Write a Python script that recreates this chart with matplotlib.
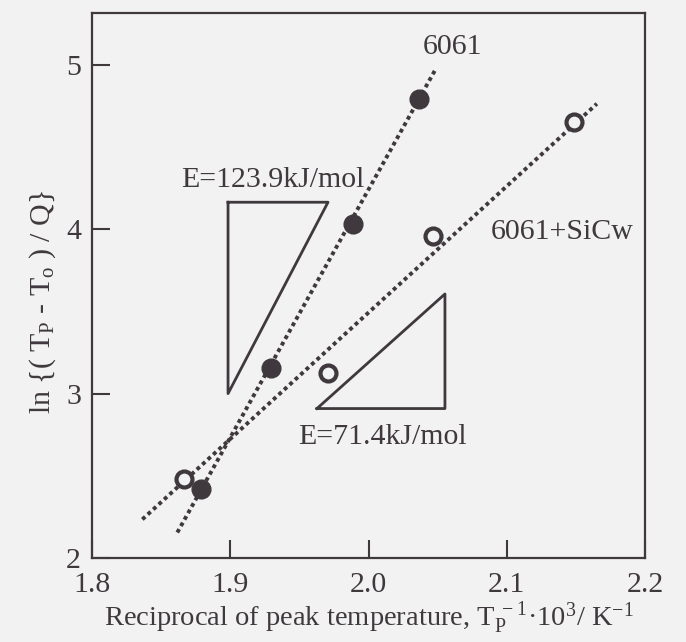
import matplotlib.pyplot as plt

plt.rcParams["font.family"] = "Liberation Serif"
plt.rcParams["mathtext.fontset"] = "custom"
plt.rcParams["mathtext.rm"] = "Liberation Serif"
plt.rcParams["mathtext.default"] = "rm"

ink = "#3f393e"
paper = "#f2f2f2"

# 6061 (filled) and 6061+SiCw (open) Kissinger-type points
x_6061 = [1.879, 1.9296, 1.989, 2.0365]
y_6061 = [2.417, 3.158, 4.034, 4.790]
x_sicw = [1.8664, 1.9710, 2.0466, 2.1488]
y_sicw = [2.479, 3.128, 3.957, 4.650]

# fitted lines (end points)
fit_6061_x = [1.8617, 2.0482]
fit_6061_y = [2.155, 4.968]
fit_sicw_x = [1.8364, 2.1652]
fit_sicw_y = [2.235, 4.763]

# slope triangles
tri1_x = [1.8984, 1.9707, 1.8984, 1.8984]
tri1_y = [4.164, 4.164, 3.000, 4.164]
tri2_x = [1.9627, 2.0553, 2.0553, 1.9627]
tri2_y = [2.909, 2.909, 3.606, 2.909]

xticks = [1.8, 1.9, 2.0, 2.1, 2.2]
xtick_labels = ["1.8", "1.9", "2.0", "2.1", "2.2"]
yticks = [2, 3, 4, 5]

fig = plt.figure(figsize=(6.86, 6.42), dpi=100, facecolor=paper)
ax = fig.add_axes([92 / 686, 1 - 558 / 642, 553 / 686, 545 / 642])
ax.set_facecolor(paper)

dots = dict(color=ink, lw=2.8, linestyle=(0, (1, 0.9)), dash_capstyle="butt")
ax.plot(fit_6061_x, fit_6061_y, **dots)
ax.plot(fit_sicw_x, fit_sicw_y, **dots)

ax.plot(tri1_x, tri1_y, color=ink, lw=2.0)
ax.plot(tri2_x, tri2_y, color=ink, lw=2.0)

ax.plot(x_6061, y_6061, "o", ms=13.5, mfc=ink, mec=ink, zorder=5)
ax.plot(x_sicw, y_sicw, "o", ms=11.5, mfc=paper, mec=ink, mew=3, zorder=5)

tsize = 21.5
ax.text(2.061, 5.11, "6061", fontsize=tsize, color=ink, ha="center", va="center")
ax.text(2.140, 3.985, "6061+SiCw", fontsize=tsize, color=ink, ha="center", va="center")
ax.text(1.931, 4.297, "E=123.9kJ/mol", fontsize=tsize, color=ink, ha="center", va="center")
ax.text(2.010, 2.739, "E=71.4kJ/mol", fontsize=tsize, color=ink, ha="center", va="center")

ax.set_xlim(1.8, 2.2)
ax.set_ylim(2, 5.315)
ax.set_xticks(xticks)
ax.set_xticklabels(xtick_labels)
ax.set_yticks(yticks)
ax.tick_params(direction="in", length=13, width=1.5, colors=ink,
               labelsize=tsize, top=False, right=False)
ax.tick_params(axis="x", pad=10)
ax.tick_params(axis="y", pad=8)
for s in ax.spines.values():
    s.set_linewidth(1.6)
    s.set_color(ink)

ax.set_xlabel(r"Reciprocal of peak temperature, T$_\mathrm{P}^{\,-1}$·10$^{3}$/ K$^{-1}$",
              fontsize=20.5, color=ink, labelpad=2)
ax.set_ylabel(r"ln {( T$_\mathrm{P}$ - T$_\mathrm{o}$ ) / Q}", fontsize=tsize, color=ink)
ax.yaxis.set_label_coords(-0.062, 0.47)

fig.savefig("out.png", dpi=100, facecolor=paper)
